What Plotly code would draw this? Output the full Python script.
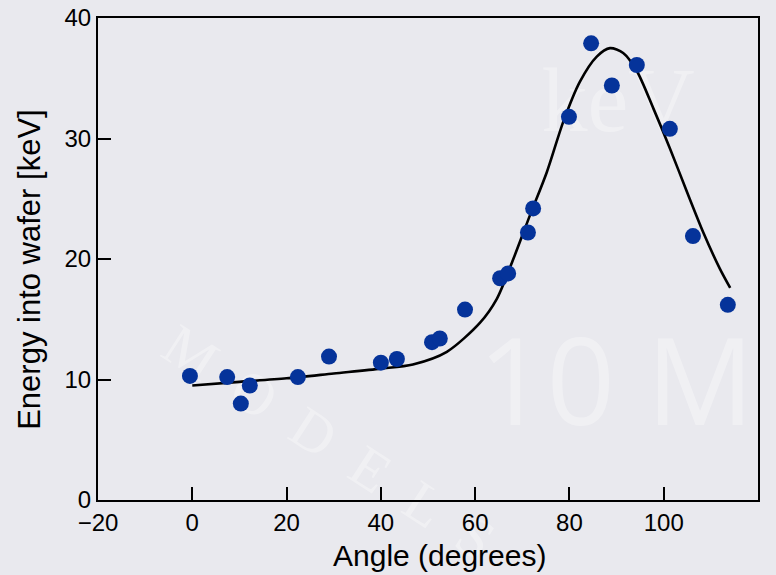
import plotly.graph_objects as go

# Measured data points
angle = [-0.5, 7.4, 10.3, 12.2, 22.4, 29.0, 40.0, 43.4, 50.85, 52.5, 57.85,
         65.3, 67.0, 71.2, 72.3, 79.9, 84.6, 89.0, 94.3, 101.3, 106.2, 113.6]
energy = [10.3, 10.2, 8.0, 9.5, 10.2, 11.9, 11.4, 11.7, 13.1, 13.4, 15.8,
          18.4, 18.8, 22.2, 24.2, 31.8, 37.9, 34.4, 36.1, 30.8, 21.9, 16.2]

# Model curve
curve_x = [0, 10, 20, 30, 40, 46.8, 54, 61, 64.6, 68.1, 71.6, 75.2, 78.7, 82.2,
           85.8, 88.6, 91.4, 94.3, 97.8, 101.3, 104.9, 108.4, 111.9, 114.1]
curve_y = [9.5, 9.8, 10.1, 10.5, 10.9, 11.25, 12.3, 14.7, 16.7, 20.0, 23.6, 27.2,
           31.4, 34.7, 36.8, 37.5, 37.1, 35.6, 32.5, 29.2, 25.6, 22.2, 19.2, 17.6]

x_ticks = [-20, 0, 20, 40, 60, 80, 100, 120]
y_ticks = [0, 10, 20, 30, 40]

x_title = "Angle (degrees)"
y_title = "Energy into wafer [keV]"

fig = go.Figure()
fig.add_trace(go.Scatter(x=curve_x, y=curve_y, mode="lines",
                         line=dict(color="black", width=2.6, shape="spline", smoothing=0.8),
                         hoverinfo="skip", showlegend=False))
fig.add_trace(go.Scatter(x=angle, y=energy, mode="markers",
                         marker=dict(color="#05339a", size=16, line=dict(width=0)),
                         showlegend=False))

font_fam = "Liberation Sans, Arial, Helvetica, sans-serif"

# faint background watermarks, drawn beneath the data as shape labels
wm_col = "rgba(255,255,255,0.33)"
watermarks = [
    dict(text="keV", cx=0.788, cy=0.85, size=92, angle=0, fam="Liberation Serif, serif"),
    dict(text="10 M", cx=0.785, cy=0.235, size=120, angle=0, fam="Open Sans, sans-serif"),
    dict(text="M  O  D  E  L  S", cx=0.355, cy=0.13, size=58, angle=33,
         fam="Liberation Serif, serif"),
]
for w in watermarks:
    fig.add_shape(type="rect", xref="paper", yref="paper",
                  x0=w["cx"] - 0.05, x1=w["cx"] + 0.05, y0=w["cy"] - 0.05, y1=w["cy"] + 0.05,
                  line=dict(width=0), fillcolor="rgba(0,0,0,0)", layer="below",
                  label=dict(text=w["text"], textangle=w["angle"], textposition="middle center",
                             font=dict(family=w["fam"], size=w["size"], color=wm_col)))

# axis titles placed as annotations to match their offsets
fig.add_annotation(text=x_title, xref="paper", yref="paper", x=0.518, y=-0.116,
                   showarrow=False, xanchor="center", yanchor="middle",
                   font=dict(size=30, color="black"))
fig.add_annotation(text=y_title, xref="paper", yref="paper", x=-0.105, y=0.479,
                   showarrow=False, xanchor="center", yanchor="middle", textangle=-90,
                   font=dict(size=31, color="black"))

fig.update_layout(
    width=776, height=575,
    margin=dict(l=98, r=18, t=18, b=75),
    paper_bgcolor="#e9e9ee",
    plot_bgcolor="rgba(0,0,0,0)",
    font=dict(family=font_fam, color="black", size=24),
    xaxis=dict(range=[-20, 120], tickvals=x_ticks, ticks="inside", ticklen=13,
               tickwidth=2, tickcolor="black", showline=True, linecolor="black",
               linewidth=2, mirror=True, showgrid=False, zeroline=False,
               automargin=False, tickfont=dict(size=24)),
    yaxis=dict(range=[0, 40], tickvals=y_ticks, ticks="inside", ticklen=13,
               tickwidth=2, tickcolor="black", showline=True, linecolor="black",
               linewidth=2, mirror=True, showgrid=False, zeroline=False,
               automargin=False, tickfont=dict(size=24)),
)

fig.write_html("out.html", config={"displayModeBar": False},
               post_script="document.body.style.margin='0';document.body.style.background='#e9e9ee';")
